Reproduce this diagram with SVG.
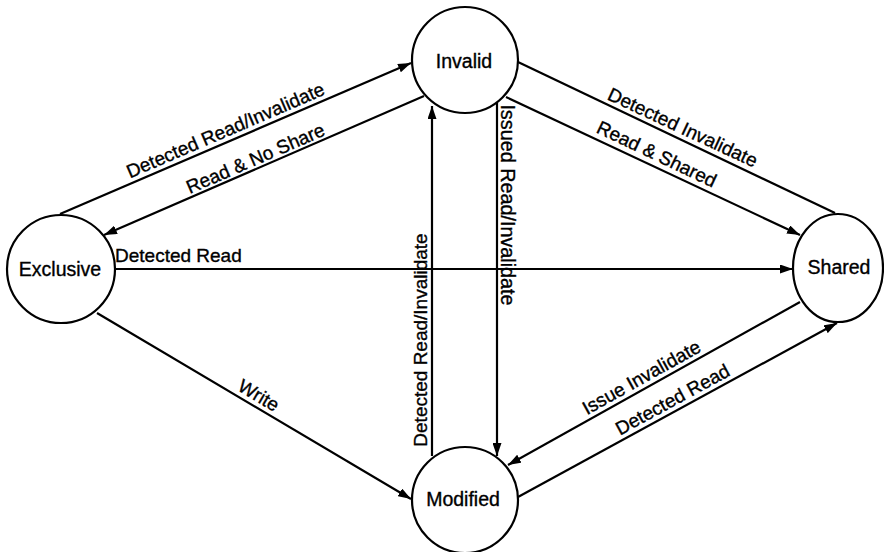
<svg xmlns="http://www.w3.org/2000/svg" width="884" height="552" viewBox="0 0 884 552">
  <style>
    .state { fill: #ffffff; stroke: #000000; stroke-width: 2.2; }
    .edge { fill: none; stroke: #000000; stroke-width: 2.2; }
    .arrow { marker-end: url(#head); }
    text { font-family: "Liberation Sans", Arial, sans-serif; fill: #000000; stroke: #000000; stroke-width: 0.35; }
    .node-label { font-size: 19.5px; text-anchor: middle; }
    .edge-label { font-size: 19px; text-anchor: middle; }
  </style>
  <defs>
    <marker id="head" markerUnits="userSpaceOnUse" markerWidth="13" markerHeight="9" refX="13" refY="4.5" orient="auto">
      <path d="M0,0 L13,4.5 L0,9 z" fill="#000000"/>
    </marker>
  </defs>
  <rect width="884" height="552" fill="#ffffff"/>

  <!-- transitions -->
  <g id="connectors">
    <line class="edge arrow" x1="60" y1="214" x2="411" y2="63"/>
    <line class="edge arrow" x1="424" y1="96" x2="104" y2="235"/>
    <line class="edge arrow" x1="115" y1="269" x2="793" y2="269"/>
    <line class="edge arrow" x1="97" y1="313" x2="411" y2="499"/>
    <line class="edge arrow" x1="432" y1="456" x2="432" y2="106"/>
    <line class="edge arrow" x1="497" y1="103" x2="497" y2="456"/>
    <line class="edge" x1="518" y1="62" x2="835" y2="213"/>
    <line class="edge arrow" x1="506" y1="97" x2="800" y2="235"/>
    <line class="edge arrow" x1="800" y1="302" x2="508" y2="465"/>
    <line class="edge arrow" x1="518" y1="497" x2="837" y2="323"/>

    <text class="edge-label" transform="translate(228,136.3) rotate(-23.3)">Detected Read/Invalidate</text>
    <text class="edge-label" transform="translate(258,164.4) rotate(-23.5)">Read &amp; No Share</text>
    <text class="edge-label" x="115" y="262" style="text-anchor:start">Detected Read</text>
    <text class="edge-label" transform="translate(255.5,401) rotate(30.6)">Write</text>
    <text class="edge-label" transform="translate(427,340) rotate(-90)">Detected Read/Invalidate</text>
    <text class="edge-label" transform="translate(501,205) rotate(90)" style="font-size:19.8px">Issued Read/Invalidate</text>
    <text class="edge-label" transform="translate(680,133.4) rotate(25)">Detected Invalidate</text>
    <text class="edge-label" transform="translate(654,159.9) rotate(25.5)">Read &amp; Shared</text>
    <text class="edge-label" transform="translate(644.6,383) rotate(-29.2)">Issue Invalidate</text>
    <text class="edge-label" transform="translate(675.6,405.3) rotate(-28.6)">Detected Read</text>
  </g>

  <!-- states -->
  <g id="invalid">
    <circle class="state" cx="465" cy="60" r="53"/>
    <text class="node-label" x="464" y="68">Invalid</text>
  </g>
  <g id="exclusive">
    <circle class="state" cx="61" cy="269" r="54"/>
    <text class="node-label" x="60" y="276">Exclusive</text>
  </g>
  <g id="shared">
    <ellipse class="state" cx="838" cy="268" rx="45" ry="54"/>
    <text class="node-label" x="839" y="274">Shared</text>
  </g>
  <g id="modified">
    <circle class="state" cx="465" cy="500" r="53"/>
    <text class="node-label" x="463" y="506">Modified</text>
  </g>
</svg>
